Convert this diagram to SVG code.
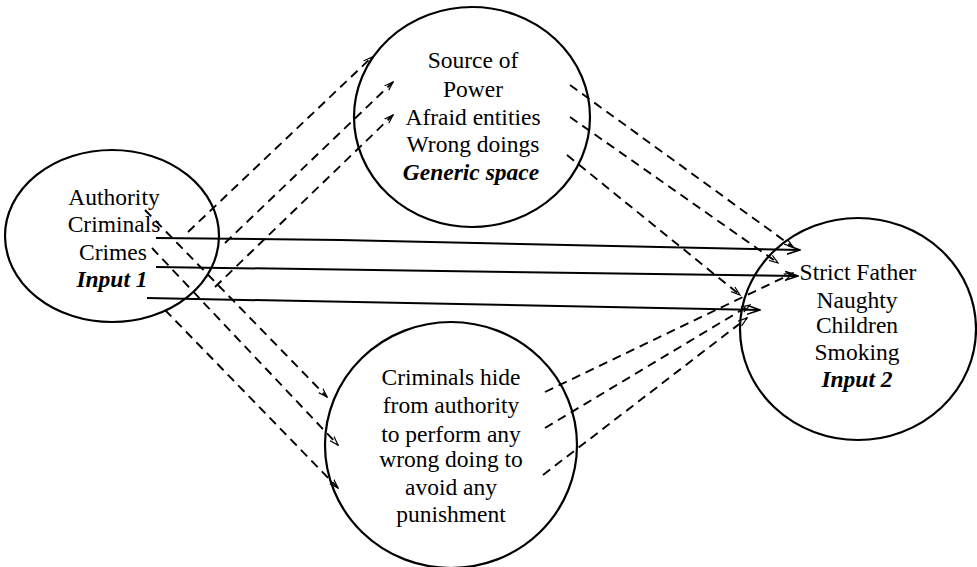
<svg xmlns="http://www.w3.org/2000/svg" width="977" height="567" viewBox="0 0 977 567">
<style>
.node ellipse{fill:none;stroke:#000;stroke-width:2.2}
.solid{fill:none;stroke:#000;stroke-width:2;marker-end:url(#arr)}
.dash{fill:none;stroke:#000;stroke-width:1.9;stroke-dasharray:9 6;marker-end:url(#arrs)}
</style>
<defs>
<marker id="arr" viewBox="0 0 14 10" refX="13" refY="5" markerWidth="14" markerHeight="10" markerUnits="userSpaceOnUse" orient="auto">
<polyline points="0,0.5 13,5 0,9.5" fill="none" stroke="#000" stroke-width="1.6"/>
</marker>
<marker id="arrs" viewBox="0 0 10 8" refX="9" refY="4" markerWidth="10" markerHeight="8" markerUnits="userSpaceOnUse" orient="auto">
<polyline points="0,1 9,4 0,7" fill="none" stroke="#000" stroke-width="1.2"/>
</marker>
</defs>
<g id="connectors">
<path class="solid" d="M156,238 L340,240 L800,250"/>
<path class="solid" d="M156,267 L798,276"/>
<path class="solid" d="M147,298 L760,310"/>
<path class="dash" d="M188,232 L372,57"/>
<path class="dash" d="M225,243 L393,82"/>
<path class="dash" d="M215,287 L393,115"/>
<path class="dash" d="M145,210 L327,397"/>
<path class="dash" d="M152,248 L338,445"/>
<path class="dash" d="M165,310 L338,488"/>
<path class="dash" d="M570,85 L793,247"/>
<path class="dash" d="M570,117 L778,263"/>
<path class="dash" d="M567,155 L740,295"/>
<path class="dash" d="M545,392 L793,273"/>
<path class="dash" d="M545,428 L750,305"/>
<path class="dash" d="M543,475 L747,318"/>
</g>
<g id="generic" class="node" font-family="Liberation Serif" font-size="23.5" text-anchor="middle" fill="#000">
<ellipse cx="472" cy="117" rx="118" ry="110"/>
<text x="473" y="68">Source of</text>
<text x="473" y="97">Power</text>
<text x="473" y="125">Afraid entities</text>
<text x="473" y="152">Wrong doings</text>
<text x="471" y="180" font-weight="bold" font-style="italic">Generic space</text>
</g>
<g id="input1" class="node" font-family="Liberation Serif" font-size="23.5" text-anchor="middle" fill="#000">
<ellipse cx="112" cy="236" rx="107" ry="86"/>
<text x="114" y="205">Authority</text>
<text x="114" y="232">Criminals</text>
<text x="113" y="260">Crimes</text>
<text x="112" y="287" font-weight="bold" font-style="italic">Input 1</text>
</g>
<g id="input2" class="node" font-family="Liberation Serif" font-size="23.5" text-anchor="middle" fill="#000">
<ellipse cx="858" cy="329" rx="118" ry="111"/>
<text x="858" y="280">Strict Father</text>
<text x="857" y="308">Naughty</text>
<text x="857" y="333">Children</text>
<text x="857" y="360">Smoking</text>
<text x="857" y="387" font-weight="bold" font-style="italic">Input 2</text>
</g>
<g id="blend" class="node" font-family="Liberation Serif" font-size="23.5" text-anchor="middle" fill="#000">
<ellipse cx="451" cy="445" rx="126" ry="123"/>
<text x="451" y="385">Criminals hide</text>
<text x="451" y="413">from authority</text>
<text x="451" y="442">to perform any</text>
<text x="451" y="467">wrong doing to</text>
<text x="451" y="495">avoid any</text>
<text x="451" y="522">punishment</text>
</g>
</svg>
